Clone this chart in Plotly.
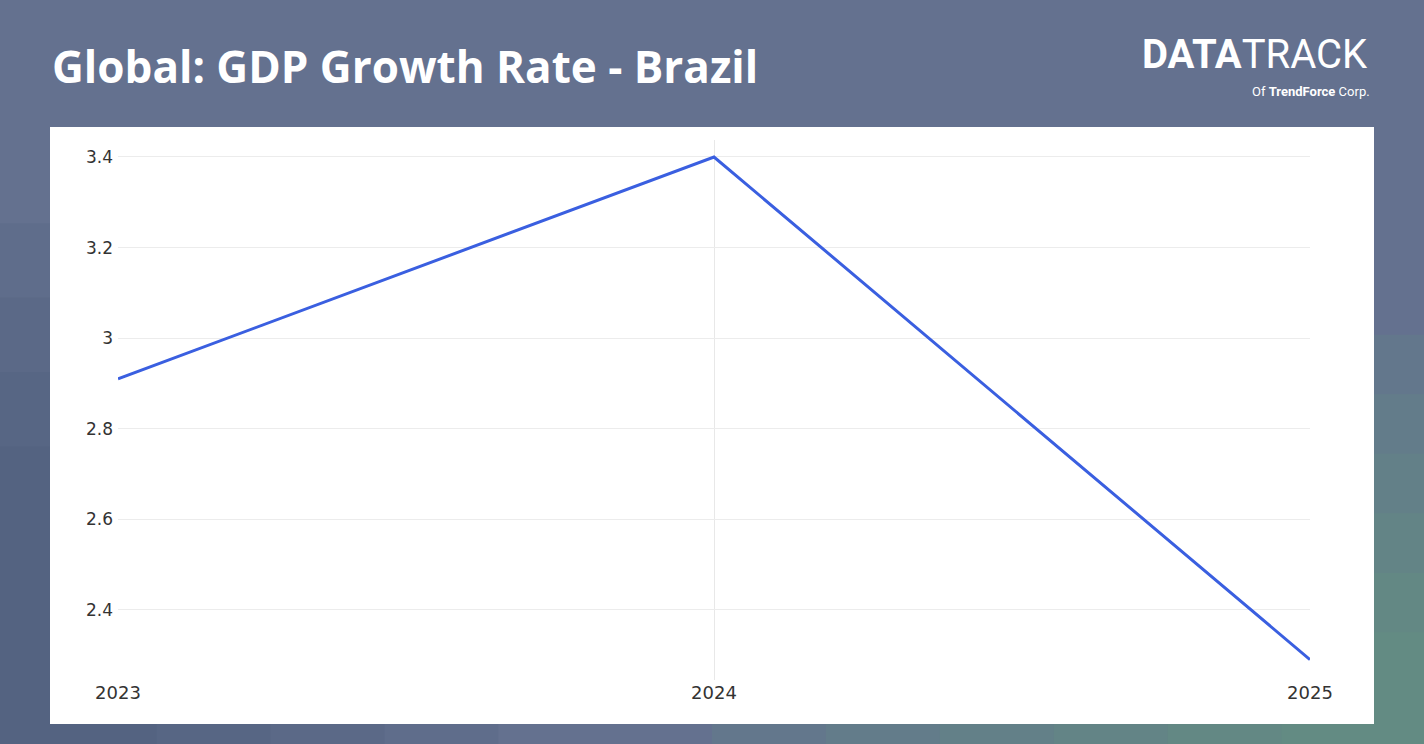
import plotly.graph_objects as go

years = [2023, 2024, 2025]
gdp = [2.91, 3.40, 2.29]
ytick_vals = [2.4, 2.6, 2.8, 3.0, 3.2, 3.4]

W, H = 1424, 744
fig = go.Figure()
fig.add_trace(go.Scatter(x=years, y=gdp, mode="lines",
                         line=dict(color="#3a5fe0", width=3), showlegend=False))

shapes = []
for i in range(6):
    shapes.append(dict(type="rect", xref="paper", yref="paper", x0=0.5 + i * 0.08, x1=1,
                       y0=0, y1=0.55 - i * 0.08, fillcolor="#66a87c", opacity=0.12,
                       line_width=0, layer="below"))
for i in range(4):
    shapes.append(dict(type="rect", xref="paper", yref="paper", x0=0, x1=0.35 - i * 0.08,
                       y0=0, y1=0.7 - i * 0.1, fillcolor="#3f4c68", opacity=0.1,
                       line_width=0, layer="below"))
shapes.append(dict(type="rect", xref="paper", yref="paper", x0=50/W, x1=1374/W,
                   y0=1-724/H, y1=1-127/H, fillcolor="white", line_width=0, layer="below"))

fig.update_layout(
    width=W, height=H, margin=dict(l=0, r=0, t=0, b=0, autoexpand=False), autosize=False,
    paper_bgcolor="#64718f", plot_bgcolor="white", shapes=shapes,
    font=dict(family="Open Sans, sans-serif"),
    xaxis=dict(domain=[118/W, 1310/W], range=[2023, 2025], tickvals=years, automargin=False,
               ticktext=[str(y) for y in years], showgrid=True, gridcolor="#e8e8e8",
               zeroline=False, showline=False, ticks="",
               tickfont=dict(size=18, color="#333", family="DejaVu Sans")),
    yaxis=dict(domain=[1-680/H, 1-140/H], range=[2.245, 3.4375], tickvals=ytick_vals,
               showgrid=True, gridcolor="#ececec", zeroline=False, ticks="", automargin=False,
               ticklabelstandoff=4,
               tickfont=dict(size=17, color="#333", family="DejaVu Sans")),
    annotations=[
        dict(text="<b>Global: GDP Growth Rate - Brazil</b>", xref="paper", yref="paper",
             x=50/W, y=1-66/H, xanchor="left", yanchor="middle", showarrow=False,
             font=dict(size=44, color="white", family="Open Sans")),
        dict(text="<b>DATA</b>TRACK", xref="paper", yref="paper",
             x=1370/W, y=1-54/H, xanchor="right", yanchor="middle", showarrow=False,
             font=dict(size=40, color="white", family="Roboto")),
        dict(text="Of <b>TrendForce</b> Corp.", xref="paper", yref="paper",
             x=1372/W, y=1-91/H, xanchor="right", yanchor="middle", showarrow=False,
             font=dict(size=13, color="white", family="Roboto")),
    ],
)
fig.write_html("out.html", config={"displayModeBar": False},
               post_script="document.body.style.margin='0';document.body.style.overflow='hidden';")
